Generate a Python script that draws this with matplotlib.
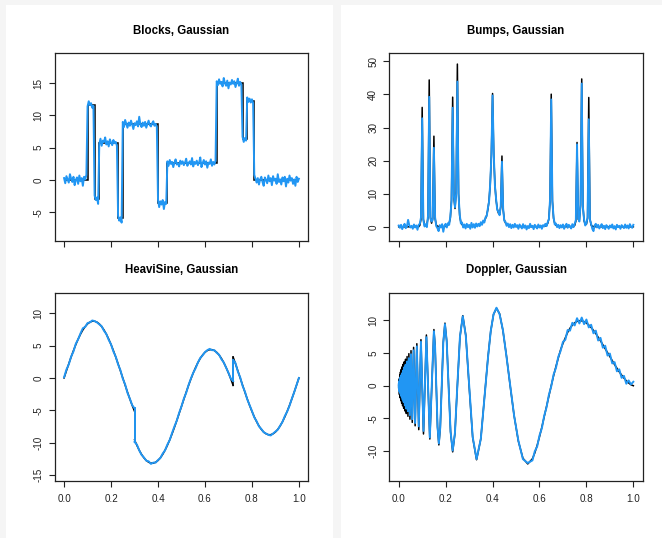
import numpy as np
import matplotlib
matplotlib.use("Agg")
import matplotlib.pyplot as plt
from matplotlib.patches import Rectangle

plt.rcParams['font.family'] = ['Liberation Sans', 'DejaVu Sans']
plt.rcParams['axes.unicode_minus'] = False

BLUE = '#2196f3'

# ---- Blocks: true step function (edges + levels) and the noisy signal ----
blocks_edges = [0.0, 0.10, 0.13, 0.15, 0.23, 0.25, 0.40, 0.44, 0.65, 0.76, 0.78, 0.81, 1.0]
blocks_true = [0.0, 11.6, -2.9, 5.8, -5.9, 8.6, -3.5, 2.6, 15.0, 6.3, 12.2, 0.0]
blocks_obs = [
    0.3, -0.5, 0.6, 0.1, -0.4, 0.9, 0.2, -0.3, 0.5, -0.8, 0.0, 0.4, -0.6, 0.7, -0.2, 0.3, -0.9, 0.5, 0.1, 0.8,
    11.4, 12.2, 11.6, 11.9, 11.2, 11.5,
    -2.4, -3.1, -2.7, -3.7,
    5.6, 6.4, 5.3, 6.1, 5.9, 6.6, 5.5, 6.0, 5.2, 6.3, 5.8, 5.4, 6.2, 5.7, 5.9, 5.3,
    -5.5, -6.3, -5.8, -6.6,
    9.0, 8.2, 9.3, 8.7, 8.1, 8.9, 8.4, 9.2, 8.6, 7.9, 8.8, 8.5, 9.1, 8.3, 9.8,
    8.6, 8.2, 8.9, 8.4, 9.0, 8.1, 8.7, 9.2, 8.5, 8.3, 8.8, 9.1, 8.4, 8.7, 8.2,
    -3.0, -4.2, -3.3, -3.8, -3.1, -4.5, -3.4, -3.7,
    2.9, 2.2, 3.1, 2.5, 2.8, 2.0, 2.7, 3.2, 2.4, 2.6, 2.1, 3.0, 2.5, 2.9, 2.3, 2.7, 3.3, 2.2, 2.6, 2.9, 2.4,
    3.4, 2.1, 2.8, 2.5, 3.0, 2.3, 2.7, 3.5, 2.0, 2.6, 3.1, 2.4, 2.9, 1.9, 2.7, 2.5, 3.2, 2.2, 2.8, 2.4, 3.0,
    15.3, 14.7, 15.6, 14.9, 15.2, 14.5, 15.8, 15.0, 14.6, 15.4, 14.2,
    15.1, 14.8, 15.5, 14.9, 15.3, 14.4, 15.0, 15.7, 14.6, 15.2, 14.8,
    6.7, 5.9, 6.5, 6.1,
    12.8, 12.1, 12.6, 12.0, 12.5, 11.9,
    0.8, 0.2, -0.4, 0.3, -0.7, 0.1, 0.5, -0.3, -0.9, 0.4, 0.0, -0.5, 0.7, -0.2, 0.3, -0.8, 0.6, -0.1, 0.2, -0.6,
    0.9, -0.3, 0.1, -0.7, 0.4, -0.2, 0.5, -1.0, 0.2, -0.4, 0.7, -0.1, 0.3, -0.6, 0.1, -0.9, 0.5, -0.3, 0.2,
]

# ---- Bumps: true function and noisy signal, 201 samples on [0, 1] ----
bumps_true = [
    0, 0, 0, 0, 0, 0, 0, 0, 0, 0,
    0, 0, 0, 0, 0, 0, 0, 0, 0.44, 2.3,
    36.1, 2.3, 0.5, 0.3, 0.6, 2.85, 44.4, 2.95, 1.1, 2.6,
    27.4, 2.5, 0.6, 0.18, 0.08, 0.05, 0.04, 0.04, 0.05, 0.08,
    0.15, 0.31, 0.56, 1.12, 2.64, 8.07, 39.2, 9.0, 5.53, 10.7,
    49.2, 10.0, 3.2, 1.35, 0.66, 0.36, 0.22, 0.14, 0.13, 0.13,
    0.15, 0.15, 0.17, 0.19, 0.22, 0.27, 0.33, 0.40, 0.50, 0.63,
    0.80, 1.03, 1.36, 1.83, 2.52, 3.57, 5.22, 7.96, 12.75, 21.8,
    40.3, 21.85, 12.83, 8.1, 5.48, 4.12, 3.86, 6.06, 21.4, 5.26,
    2.14, 1.18, 0.76, 0.54, 0.41, 0.32, 0.25, 0.21, 0.16, 0.13,
    0.11, 0.10, 0.09, 0.08, 0.08, 0.07, 0.06, 0.06, 0.05, 0.05,
    0.05, 0.05, 0.05, 0.05, 0.05, 0.05, 0.06, 0.06, 0.07, 0.08,
    0.09, 0.10, 0.12, 0.14, 0.16, 0.27, 0.49, 1.03, 2.51, 7.92,
    40.1, 7.92, 2.51, 1.03, 0.49, 0.27, 0.16, 0.10, 0.07, 0.05,
    0.04, 0.04, 0.04, 0.04, 0.04, 0.05, 0.05, 0.06, 0.07, 0.15,
    0.40, 1.74, 25.5, 2.24, 2.05, 6.51, 44.7, 6.44, 1.80, 0.80,
    0.78, 2.59, 39.1, 2.49, 0.51, 0.17, 0.08, 0.05, 0.03, 0.02,
    0.02, 0.02, 0.02, 0.02, 0.02, 0.02, 0.02, 0.02, 0.02, 0.02,
    0.01, 0.01, 0.01, 0.01, 0.01, 0.01, 0.01, 0.01, 0.01, 0.01,
    0.01, 0.01, 0.01, 0.01, 0.01, 0.01, 0.01, 0.01, 0.01, 0.01, 0.01,
]
bumps_obs = [
    0.4, -0.3, 0.6, -0.7, 0.2, 0.9, -0.4, 0.1, 2.1, 0.5,
    -0.2, 0.3, -0.6, 0.7, -0.2, 0.4, -0.9, 0.6, 0.9, 2.8,
    32.8, 2.0, 0.1, 0.8, -0.1, 3.3, 39.3, 2.5, 1.6, 2.1,
    23.9, 2.9, 0.2, -0.4, -1.3, 0.5, -0.2, 0.8, -1.5, 0.3,
    0.9, -0.2, 1.1, 0.6, 3.1, 7.6, 36.0, 9.4, 5.9, 10.3,
    43.9, 9.6, 3.7, 1.0, 1.3, -0.2, 0.7, -0.5, 0.9, -0.1,
    0.6, -0.6, 1.2, -0.2, 0.8, -0.3, 1.0, 0.1, 0.9, 0.2,
    1.4, 0.6, 1.9, 1.3, 2.9, 3.2, 5.6, 7.6, 13.1, 21.4,
    39.7, 22.2, 12.5, 8.4, 5.1, 4.5, 3.5, 6.4, 19.7, 5.6,
    1.8, 1.5, 0.3, 1.0, -0.1, 0.8, -0.4, 0.6, -0.2, 0.9,
    0.0, 0.5, -0.6, 0.7, 0.1, -0.5, 0.8, -0.3, 0.4, -0.8,
    0.2, -0.4, 0.9, -0.1, 0.3, -0.7, 0.6, 0.0, -0.5, 0.7,
    -0.2, 0.4, -0.6, 0.5, 0.1, 0.9, 0.2, 1.4, 2.2, 8.3,
    38.5, 7.5, 2.9, 0.7, 1.0, -0.1, 0.6, -0.4, 0.5, -0.2,
    0.7, -0.6, 0.3, 0.9, -0.3, 0.6, 0.1, -0.5, 0.8, -0.1,
    0.9, 2.1, 24.9, 2.6, 1.6, 6.9, 43.3, 6.0, 2.2, 0.4,
    1.1, 2.9, 32.5, 2.1, 0.9, -0.6, -1.3, 0.4, 0.9, -0.2,
    0.6, -0.5, 0.2, 0.8, -0.4, 0.3, -0.7, 0.5, 0.0, -0.6,
    0.4, -0.2, 0.7, -0.5, 0.2, -0.8, 0.6, -0.1, 0.3, -0.6,
    0.5, 0.1, -0.4, 0.7, -0.3, 0.4, -0.5, 0.8, 0.1, -0.3, 0.6,
]

# ---- HeaviSine: three pieces split at the jumps (0.30 and 0.72) ----
heavi_breaks = [0.0, 0.30, 0.72, 1.0]
heavi_true = [
    [0.0, 1.10, 2.19, 3.24, 4.24, 5.17, 6.02, 6.78, 7.43, 7.96, 8.37, 8.64, 8.78,
     8.78, 8.64, 8.37, 7.96, 7.43, 6.78, 6.02, 5.17, 4.24, 3.24, 2.19, 1.10, 0.0,
     -1.10, -2.19, -3.24, -4.24, -5.17],
    [-9.57, -10.42, -11.18, -11.83, -12.36, -12.77, -13.04, -13.18, -13.18, -13.04, -12.77,
     -12.36, -11.83, -11.18, -10.42, -9.57, -8.64, -7.64, -6.59, -5.50, -4.40,
     -3.30, -2.21, -1.16, -0.16, 0.77, 1.62, 2.38, 3.03, 3.56, 3.97, 4.24,
     4.38, 4.38, 4.24, 3.97, 3.56, 3.03, 2.38, 1.62, 0.77, -0.16, -1.16],
    [3.24, 2.19, 1.10, 0.0, -1.10, -2.19, -3.24, -4.24, -5.17, -6.02, -6.78, -7.43,
     -7.96, -8.37, -8.64, -8.78, -8.78, -8.64, -8.37, -7.96, -7.43, -6.78, -6.02,
     -5.17, -4.24, -3.24, -2.19, -1.10, 0.0],
]
heavi_obs = [
    [0.1, 1.3, 2.1, 3.3, 4.1, 5.3, 6.0, 6.9, 7.7, 7.9, 8.5, 8.6, 8.9,
     8.8, 8.6, 8.3, 8.0, 7.3, 6.8, 5.9, 5.2, 4.1, 3.3, 2.1, 1.2, -0.1,
     -1.0, -2.3, -3.2, -4.2, -4.7],
    [-9.9, -10.3, -11.2, -11.9, -12.3, -12.8, -12.9, -13.3, -13.1, -13.1, -12.7,
     -12.4, -11.7, -11.2, -10.3, -9.6, -8.5, -7.5, -6.6, -5.4, -4.4,
     -3.2, -2.3, -1.1, -0.1, 0.8, 1.5, 2.4, 3.1, 3.5, 4.0, 4.3,
     4.5, 4.3, 4.3, 3.9, 3.6, 2.9, 2.4, 1.6, 0.8, -0.1, -0.5],
    [2.8, 2.3, 1.0, 0.1, -1.2, -2.1, -3.3, -4.2, -5.1, -6.1, -6.7, -7.5,
     -7.9, -8.4, -8.6, -8.8, -8.9, -8.6, -8.3, -8.0, -7.4, -6.8, -5.9,
     -5.2, -4.3, -3.2, -2.2, -1.1, 0.0],
]

# ---- Doppler: sample positions, true function, noisy signal ----
doppler_t = [
    0.0000, 0.0006, 0.0012, 0.0019, 0.0025, 0.0032, 0.0038, 0.0045,
    0.0053, 0.0060, 0.0068, 0.0075, 0.0083, 0.0092, 0.0100, 0.0109,
    0.0118, 0.0127, 0.0136, 0.0146, 0.0156, 0.0167, 0.0177, 0.0189,
    0.0200, 0.0212, 0.0224, 0.0237, 0.0250, 0.0264, 0.0278, 0.0292,
    0.0308, 0.0324, 0.0340, 0.0357, 0.0375, 0.0394, 0.0413, 0.0433,
    0.0455, 0.0477, 0.0500, 0.0524, 0.0550, 0.0577, 0.0605, 0.0635,
    0.0667, 0.0700, 0.0735, 0.0773, 0.0813, 0.0855, 0.0900, 0.0948,
    0.1000, 0.1056, 0.1115, 0.1180, 0.1250, 0.1326, 0.1409, 0.1500,
    0.1549, 0.1600, 0.1654, 0.1711, 0.1770, 0.1833, 0.1900, 0.1971, 0.2045, 0.2125, 0.2210,
    0.2300, 0.2397, 0.2500, 0.2611, 0.2731, 0.2860, 0.3000, 0.3152, 0.3318, 0.3500, 0.3700,
    0.3808, 0.3921, 0.4041, 0.4167, 0.4300, 0.4441, 0.4591, 0.4750, 0.4919, 0.5100, 0.5293, 0.5500, 0.5700,
    0.58, 0.59, 0.60, 0.61, 0.62, 0.63, 0.64, 0.65,
    0.66, 0.67, 0.68, 0.69, 0.70, 0.71, 0.72, 0.73, 0.74, 0.75,
    0.76, 0.77, 0.78, 0.79, 0.80, 0.81, 0.82, 0.83, 0.84, 0.85,
    0.86, 0.87, 0.88, 0.89, 0.90, 0.91, 0.92, 0.93, 0.94, 0.95,
    0.96, 0.97, 0.98, 0.99, 1.00,
]
doppler_true = [
    0.00, -0.59, 0.00, 1.03, 0.00, -1.35, 0.00, 1.61,
    0.00, -1.85, 0.00, 2.08, 0.00, -2.29, 0.00, 2.49,
    0.00, -2.69, 0.00, 2.88, 0.00, -3.07, 0.00, 3.26,
    0.00, -3.46, 0.00, 3.65, 0.00, -3.85, 0.00, 4.04,
    0.00, -4.25, 0.00, 4.45, 0.00, -4.67, 0.00, 4.89,
    0.00, -5.11, 0.00, 5.35, 0.00, -5.60, 0.00, 5.85,
    0.00, -6.12, 0.00, 6.41, 0.00, -6.71, 0.00, 7.03,
    0.00, -7.37, 0.00, 7.74, 0.00, -8.14, 0.00, 8.57,
    6.14, 0.00, -6.31, -9.04, -6.48, 0.00, 6.66, 9.55, 6.85, 0.00, -7.04,
    -10.10, -7.24, 0.00, 7.45, 10.69, 7.67, 0.00, -7.88, -11.30, -8.09, 0.00,
    4.46, 8.29, 10.88, 11.83, 10.98, 8.43, 4.58, 0.00, -4.59, -8.48, -11.07, -11.94, -11.14,
    -10.26, -9.12, -7.80, -6.33, -4.77, -3.17, -1.57, 0.00,
    1.51, 2.92, 4.23, 5.49, 6.46, 7.32, 8.14, 8.78, 9.25, 9.60,
    9.82, 9.92, 9.90, 9.78, 9.56, 9.26, 8.88, 8.45, 7.96, 7.42,
    6.85, 6.26, 5.65, 5.04, 4.42, 3.82, 3.22, 2.66, 2.12, 1.62,
    1.16, 0.75, 0.42, 0.14, 0.00,
]
doppler_obs = [
    0.2, -0.4, 0.3, 0.6, -0.2, -0.9, 0.3, 1.0,
    -0.1, -1.1, 0.2, 1.3, 0.1, -1.4, -0.2, 1.6,
    0.2, -1.7, 0.0, 1.9, 0.1, -2.1, -0.2, 2.3,
    0.2, -2.5, 0.0, 2.8, 0.1, -3.0, -0.1, 3.2,
    0.2, -3.5, 0.0, 3.7, -0.1, -3.9, 0.2, 4.2,
    0.0, -4.5, 0.1, 4.8, -0.1, -5.1, 0.1, 5.4,
    0.0, -5.7, 0.1, 6.0, -0.1, -6.2, 0.1, 6.7,
    0.0, -6.9, 0.1, 7.4, -0.1, -7.9, 0.1, 8.3,
    6.0, 0.1, -6.2, -8.8, -6.4, 0.1, 6.6, 9.4, 6.8, -0.1, -7.0,
    -9.9, -7.2, 0.1, 7.5, 10.6, 7.6, 0.1, -7.8, -11.2, -8.1, 0.1,
    4.4, 8.3, 10.9, 11.9, 10.9, 8.5, 4.5, 0.1, -4.6, -8.4, -11.2, -11.8, -11.4,
    -10.0, -9.3, -7.6, -6.5, -4.6, -3.3, -1.4, -0.1,
    1.7, 2.7, 4.4, 5.3, 6.7, 7.0, 8.5, 8.4, 9.6, 9.2,
    10.3, 9.5, 10.4, 9.4, 10.1, 8.9, 9.3, 8.0, 8.4, 6.9,
    7.3, 5.8, 6.1, 4.6, 4.9, 3.4, 3.6, 2.2, 2.5, 1.2,
    1.5, 0.3, 0.8, 0.2, 0.6,
]

fig = plt.figure(figsize=(6.62, 5.38), dpi=100, facecolor='#f5f5f5')
# white "cards" behind each column
fig.patches.append(Rectangle((6 / 662, 0), 327 / 662, 533 / 538, transform=fig.transFigure,
                             facecolor='white', edgecolor='none', zorder=-10))
fig.patches.append(Rectangle((341 / 662, 0), 321 / 662, 533 / 538, transform=fig.transFigure,
                             facecolor='white', edgecolor='none', zorder=-10))

LW_TRUE = 1.1
LW_OBS = 1.4


def style_axes(ax, title, yticks, ylim, xlabels):
    ax.set_xlim(-0.04, 1.04)
    ax.set_ylim(*ylim)
    ax.set_xticks([0.0, 0.2, 0.4, 0.6, 0.8, 1.0])
    ax.set_yticks(yticks)
    ax.set_title(title, fontsize=8.3, fontweight='bold', pad=14.3)
    ax.tick_params(direction='out', length=4, width=0.8, labelsize=7.1, colors='#222222')
    ax.tick_params(axis='x', pad=5.5)
    ax.tick_params(axis='y', pad=4, labelrotation=90)
    for lbl in ax.get_yticklabels():
        lbl.set_va('center')
    if not xlabels:
        ax.tick_params(axis='x', labelbottom=False)
    for sp in ax.spines.values():
        sp.set_linewidth(0.9)
        sp.set_color('#222222')


ax1 = fig.add_axes([0.0826, 0.5526, 0.3831, 0.348])
ax1.stairs(blocks_true, blocks_edges, baseline=None, color='black', lw=LW_TRUE)
ax1.plot(np.linspace(0, 1, len(blocks_obs)), blocks_obs, color=BLUE, lw=LW_OBS)
style_axes(ax1, 'Blocks, Gaussian', [-5, 0, 5, 10, 15], (-9.4, 19.6), False)

ax2 = fig.add_axes([0.5881, 0.5526, 0.3828, 0.348])
bumps_t = np.linspace(0, 1, len(bumps_obs))
ax2.plot(bumps_t, bumps_true, color='black', lw=LW_TRUE)
ax2.plot(bumps_t, bumps_obs, color=BLUE, lw=LW_OBS)
style_axes(ax2, 'Bumps, Gaussian', [0, 10, 20, 30, 40, 50], (-4.2, 52.4), False)

ax3 = fig.add_axes([0.0826, 0.1065, 0.3831, 0.3483])
for a, b, yt, yo in zip(heavi_breaks[:-1], heavi_breaks[1:], heavi_true, heavi_obs):
    tt = np.linspace(a, b, len(yt))
    ax3.plot(tt, yt, color='black', lw=LW_TRUE)
    ax3.plot(tt, yo, color=BLUE, lw=LW_OBS)
# join the pieces at the jumps
for i in range(1, len(heavi_breaks) - 1):
    ax3.plot([heavi_breaks[i]] * 2, [heavi_true[i - 1][-1], heavi_true[i][0]], color='black', lw=LW_TRUE)
    ax3.plot([heavi_breaks[i]] * 2, [heavi_obs[i - 1][-1], heavi_obs[i][0]], color=BLUE, lw=LW_OBS)
style_axes(ax3, 'HeaviSine, Gaussian', [-15, -10, -5, 0, 5, 10], (-15.9, 13.1), True)

ax4 = fig.add_axes([0.5881, 0.1065, 0.3828, 0.3483])
ax4.plot(doppler_t, doppler_true, color='black', lw=LW_TRUE)
ax4.plot(doppler_t, doppler_obs, color=BLUE, lw=LW_OBS)
style_axes(ax4, 'Doppler, Gaussian', [-10, -5, 0, 5, 10], (-14.5, 14.1), True)

fig.savefig('out.png', dpi=100, facecolor=fig.get_facecolor())
